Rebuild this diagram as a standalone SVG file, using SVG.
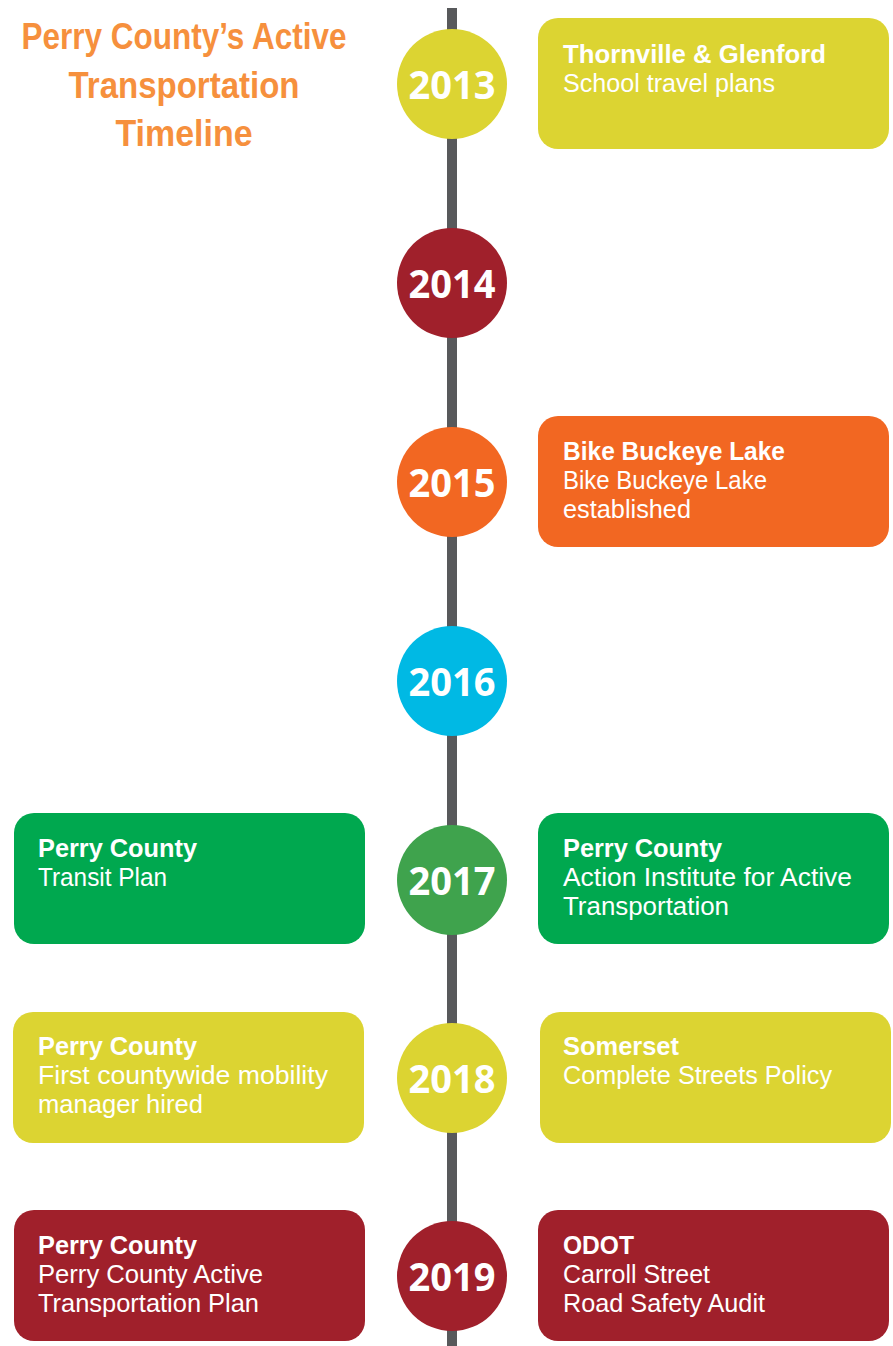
<svg xmlns="http://www.w3.org/2000/svg" width="893" height="1346" viewBox="0 0 893 1346">
<style>
.title{font-family:"Liberation Sans Narrow","Liberation Sans",sans-serif;font-weight:bold;font-size:36px;fill:#F6903D;text-anchor:middle}
.yr{font-family:"Open Sans","Noto Sans",sans-serif;font-weight:bold;font-size:40px;fill:#fff;text-anchor:middle}
.b{font-family:"Liberation Sans",Arial,sans-serif;font-weight:bold;font-size:25px;fill:#fff}
.r{font-family:"Liberation Sans",Arial,sans-serif;font-size:25px;fill:#fff}
.yel{fill:#DCD432}.red{fill:#A0202B}.org{fill:#F26722}.cyn{fill:#00B9E4}.grc{fill:#3FA34D}.grb{fill:#00A84F}
</style>
<rect width="893" height="1346" fill="#fff"/>
<g id="title">
<text class="title" x="184" y="49" textLength="325" lengthAdjust="spacingAndGlyphs">Perry County’s Active</text>
<text class="title" x="184" y="98" textLength="231" lengthAdjust="spacingAndGlyphs">Transportation</text>
<text class="title" x="184" y="146" textLength="137" lengthAdjust="spacingAndGlyphs">Timeline</text>
</g>
<g id="connectors">
<rect x="447" y="8" width="10" height="1338" fill="#58595B"/>
</g>
<g id="y2013">
<circle class="yel" cx="452" cy="84" r="55"/>
<text class="yr" x="452" y="99" textLength="87" lengthAdjust="spacingAndGlyphs">2013</text>
</g>
<g id="y2014">
<circle class="red" cx="452" cy="283" r="55"/>
<text class="yr" x="452" y="298" textLength="87" lengthAdjust="spacingAndGlyphs">2014</text>
</g>
<g id="y2015">
<circle class="org" cx="452" cy="482" r="55"/>
<text class="yr" x="452" y="497" textLength="87" lengthAdjust="spacingAndGlyphs">2015</text>
</g>
<g id="y2016">
<circle class="cyn" cx="452" cy="681" r="55"/>
<text class="yr" x="452" y="696" textLength="87" lengthAdjust="spacingAndGlyphs">2016</text>
</g>
<g id="y2017">
<circle class="grc" cx="452" cy="880" r="55"/>
<text class="yr" x="452" y="895" textLength="87" lengthAdjust="spacingAndGlyphs">2017</text>
</g>
<g id="y2018">
<circle class="yel" cx="452" cy="1078" r="55"/>
<text class="yr" x="452" y="1093" textLength="87" lengthAdjust="spacingAndGlyphs">2018</text>
</g>
<g id="y2019">
<circle class="red" cx="452" cy="1276" r="55"/>
<text class="yr" x="452" y="1291" textLength="87" lengthAdjust="spacingAndGlyphs">2019</text>
</g>
<g id="box2013">
<rect class="yel" x="538" y="18" width="351" height="131" rx="20"/>
<text class="b" x="563" y="63" textLength="263" lengthAdjust="spacingAndGlyphs">Thornville &amp; Glenford</text>
<text class="r" x="563" y="92" textLength="212" lengthAdjust="spacingAndGlyphs">School travel plans</text>
</g>
<g id="box2015">
<rect class="org" x="538" y="416" width="351" height="131" rx="20"/>
<text class="b" x="563" y="460" textLength="222" lengthAdjust="spacingAndGlyphs">Bike Buckeye Lake</text>
<text class="r" x="563" y="489" textLength="204" lengthAdjust="spacingAndGlyphs">Bike Buckeye Lake</text>
<text class="r" x="563" y="518" textLength="128" lengthAdjust="spacingAndGlyphs">established</text>
</g>
<g id="box2017L">
<rect class="grb" x="14" y="813" width="351" height="131" rx="20"/>
<text class="b" x="38" y="857" textLength="159" lengthAdjust="spacingAndGlyphs">Perry County</text>
<text class="r" x="38" y="886" textLength="129" lengthAdjust="spacingAndGlyphs">Transit Plan</text>
</g>
<g id="box2017R">
<rect class="grb" x="538" y="813" width="351" height="131" rx="20"/>
<text class="b" x="563" y="857" textLength="159" lengthAdjust="spacingAndGlyphs">Perry County</text>
<text class="r" x="563" y="886" textLength="289" lengthAdjust="spacingAndGlyphs">Action Institute for Active</text>
<text class="r" x="563" y="915" textLength="166" lengthAdjust="spacingAndGlyphs">Transportation</text>
</g>
<g id="box2018L">
<rect class="yel" x="13" y="1012" width="351" height="131" rx="20"/>
<text class="b" x="38" y="1055" textLength="159" lengthAdjust="spacingAndGlyphs">Perry County</text>
<text class="r" x="38" y="1084" textLength="290" lengthAdjust="spacingAndGlyphs">First countywide mobility</text>
<text class="r" x="38" y="1113" textLength="165" lengthAdjust="spacingAndGlyphs">manager hired</text>
</g>
<g id="box2018R">
<rect class="yel" x="540" y="1012" width="351" height="131" rx="20"/>
<text class="b" x="563" y="1055" textLength="116" lengthAdjust="spacingAndGlyphs">Somerset</text>
<text class="r" x="563" y="1084" textLength="269" lengthAdjust="spacingAndGlyphs">Complete Streets Policy</text>
</g>
<g id="box2019L">
<rect class="red" x="14" y="1210" width="351" height="131" rx="20"/>
<text class="b" x="38" y="1254" textLength="159" lengthAdjust="spacingAndGlyphs">Perry County</text>
<text class="r" x="38" y="1283" textLength="225" lengthAdjust="spacingAndGlyphs">Perry County Active</text>
<text class="r" x="38" y="1312" textLength="221" lengthAdjust="spacingAndGlyphs">Transportation Plan</text>
</g>
<g id="box2019R">
<rect class="red" x="538" y="1210" width="351" height="131" rx="20"/>
<text class="b" x="563" y="1254" textLength="71" lengthAdjust="spacingAndGlyphs">ODOT</text>
<text class="r" x="563" y="1283" textLength="147" lengthAdjust="spacingAndGlyphs">Carroll Street</text>
<text class="r" x="563" y="1312" textLength="202" lengthAdjust="spacingAndGlyphs">Road Safety Audit</text>
</g>
</svg>
